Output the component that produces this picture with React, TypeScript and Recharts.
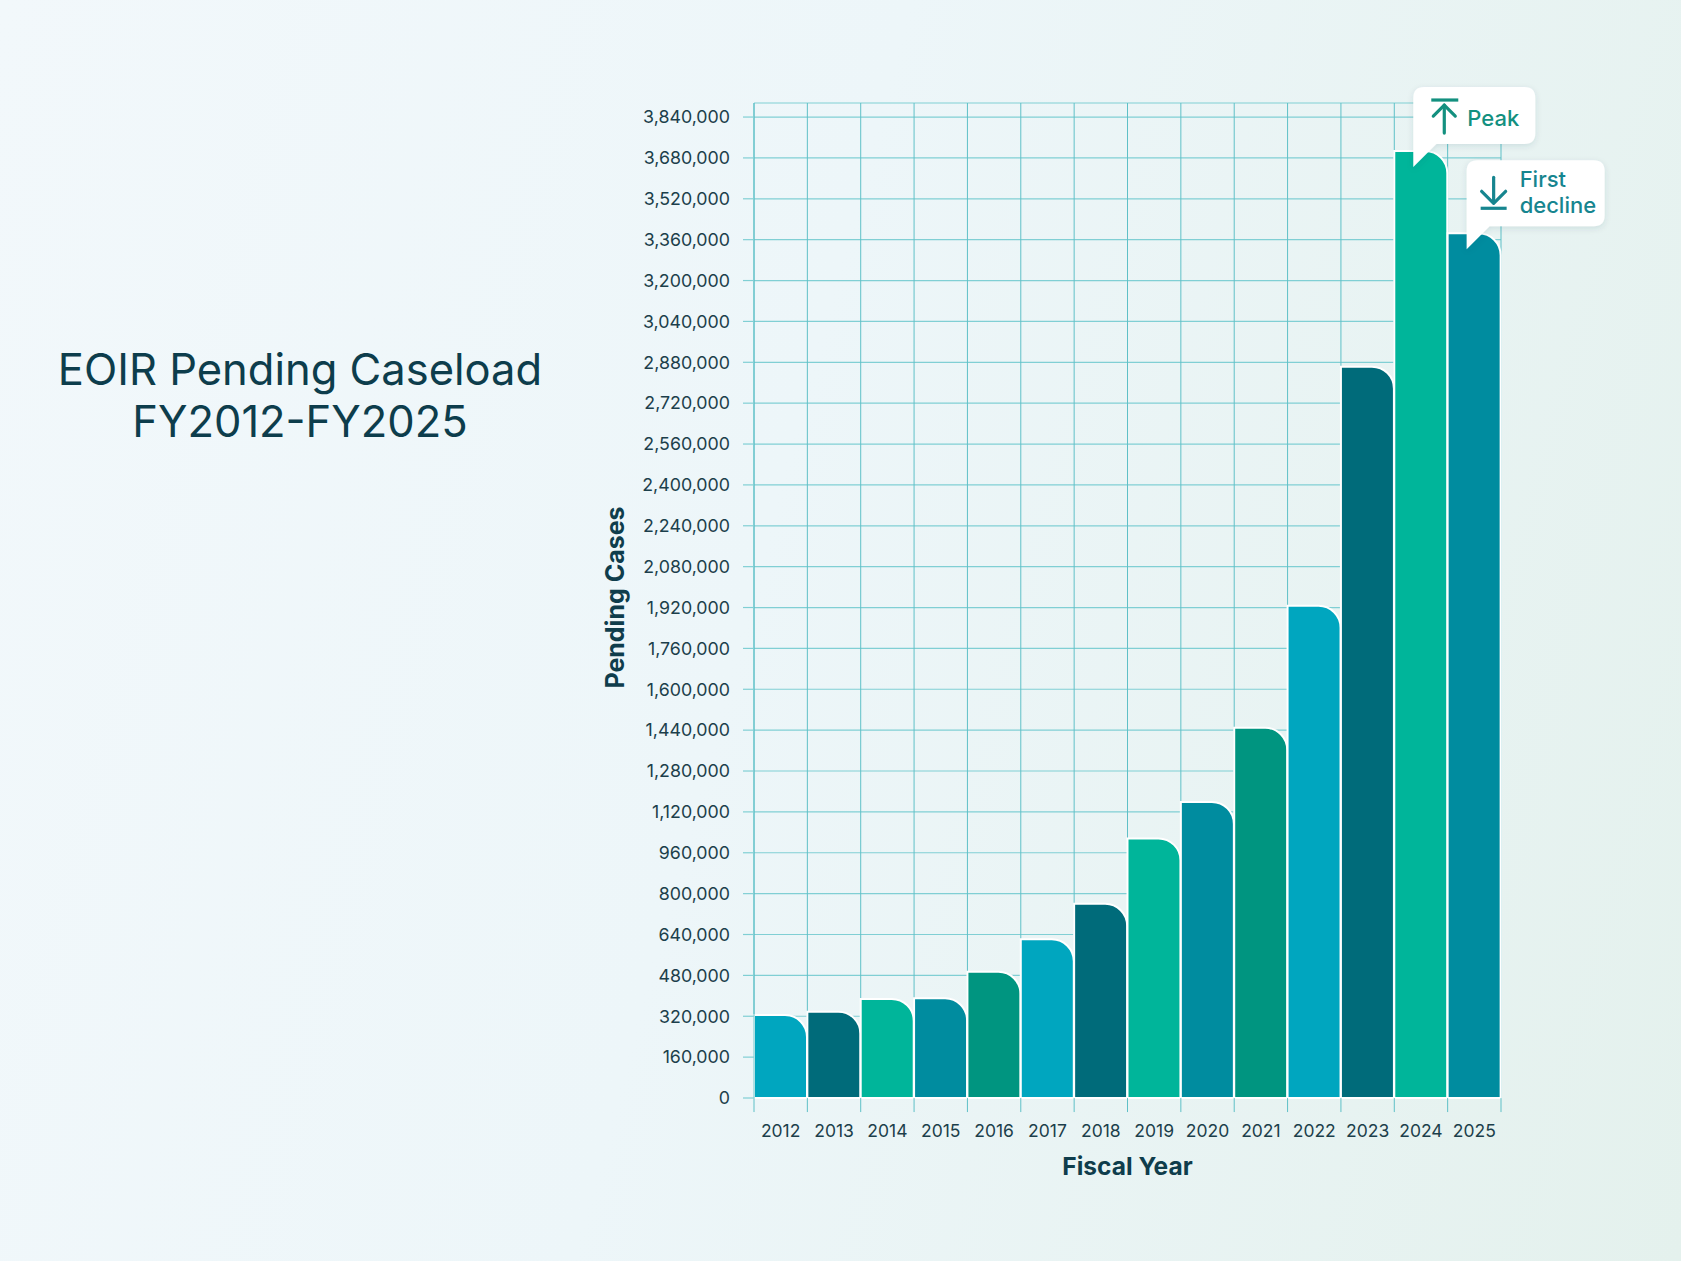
import React from 'react';
import { BarChart, Bar, XAxis, YAxis, CartesianGrid, Cell, LabelList, ReferenceLine } from 'recharts';

const years = ['2012', '2013', '2014', '2015', '2016', '2017', '2018', '2019', '2020', '2021', '2022', '2023', '2024', '2025'];
const pendingCases = [325000, 338000, 388000, 390000, 494000, 621000, 760000, 1016000, 1159000, 1449000, 1927000, 2863000, 3707000, 3385000];
const yTicks = [
  0, 160000, 320000, 480000, 640000, 800000, 960000, 1120000, 1280000, 1440000, 1600000, 1760000, 1920000,
  2080000, 2240000, 2400000, 2560000, 2720000, 2880000, 3040000, 3200000, 3360000, 3520000, 3680000, 3840000,
];
const barColors = ['#00A6BF', '#006B7A', '#00B59A', '#008C9F', '#009580'];
const callouts = [
  { year: '2024', icon: 'up', lines: ['Peak'] },
  { year: '2025', icon: 'down', lines: ['First', 'decline'] },
];

const data = years.map((year, i) => ({ year, pending: pendingCases[i], slot: i + 0.5 }));
const boundaries = [...years.map((_, i) => i), years.length];

const FONT = 'Inter, "Noto Sans", sans-serif';
const TEXT = '#1c3f4b';
const GRID_H = '#80cfd4';
const GRID_V = '#5fc0c7';

const renderCallout = (props: any) => {
  const c = callouts.find((k) => k.year === String(props.value));
  if (!c) return null;
  const bx = Number(props.x);
  const by = Number(props.y);
  const up = c.icon === 'up';
  const w = up ? 122 : 138;
  const h = up ? 57 : 66;
  const left = bx + 19;
  const bottom = by - 7;
  const top = bottom - h;
  const r = 11;
  const color = up ? '#13907f' : '#16858f';
  const id = `shadow-${c.year}`;
  const path = [
    `M ${left + r} ${top}`,
    `H ${left + w - r}`,
    `Q ${left + w} ${top} ${left + w} ${top + r}`,
    `V ${bottom - r}`,
    `Q ${left + w} ${bottom} ${left + w - r} ${bottom}`,
    `H ${left + 23}`,
    `L ${left} ${by + 16}`,
    `V ${top + r}`,
    `Q ${left} ${top} ${left + r} ${top}`,
    'Z',
  ].join(' ');
  const cx = left + (up ? 31 : 27);
  return (
    <g>
      <defs>
        <filter id={id} x="-20%" y="-30%" width="140%" height="160%">
          <feDropShadow dx="0" dy="2" stdDeviation="3" floodColor="#0b4a55" floodOpacity="0.12" />
        </filter>
      </defs>
      <path d={path} fill="#ffffff" filter={`url(#${id})`} />
      <g stroke={color} strokeWidth={3.2} strokeLinecap="round" strokeLinejoin="round" fill="none">
        {up ? (
          <>
            <line x1={left + 18} y1={top + 13} x2={left + 45} y2={top + 13} strokeLinecap="butt" />
            <line x1={cx} y1={top + 18} x2={cx} y2={top + 46} />
            <polyline points={`${cx - 11},${top + 29} ${cx},${top + 18} ${cx + 11},${top + 29}`} />
          </>
        ) : (
          <>
            <line x1={cx} y1={top + 17} x2={cx} y2={top + 42} />
            <polyline points={`${cx - 12},${top + 31} ${cx},${top + 43} ${cx + 12},${top + 31}`} />
            <line x1={left + 14} y1={top + 48} x2={left + 40} y2={top + 48} strokeLinecap="butt" />
          </>
        )}
      </g>
      {c.lines.map((line, i) => (
        <text
          key={line}
          x={left + (up ? 54 : 53)}
          y={top + (up ? 39 : 27 + i * 26)}
          fill={color}
          fontSize={22}
          fontWeight={500}
          fontFamily={FONT}
        >
          {line}
        </text>
      ))}
    </g>
  );
};

const App: React.FC = () => {
  return (
    <div
      style={{
        position: 'relative',
        width: 1681,
        height: 1261,
        overflow: 'hidden',
        fontFamily: FONT,
        background: 'linear-gradient(105deg, #f2f8fb 0%, #edf6f9 45%, #e4f1ed 100%)',
      }}
    >
      <style>{'body { margin: 0; }'}</style>
      <div
        style={{
          position: 'absolute',
          left: 0,
          top: 343,
          width: 600,
          textAlign: 'center',
          fontSize: 43.5,
          lineHeight: '52px',
          color: '#0d3d4c',
        }}
      >
        EOIR Pending Caseload
        <br />
        FY2012-FY2025
      </div>
      <div style={{ position: 'absolute', left: 0, top: 0 }}>
        <BarChart
          width={1681}
          height={1261}
          data={data}
          barCategoryGap={0}
          margin={{ top: 103, right: 160, bottom: 86, left: 590 }}
        >
          <CartesianGrid xAxisId="grid" yAxisId="left" vertical={false} stroke={GRID_H} strokeWidth={1.2} />
          <CartesianGrid xAxisId="grid" yAxisId="left" horizontal={false} stroke={GRID_V} strokeWidth={1} />
          <XAxis
            xAxisId="grid"
            dataKey="slot"
            type="number"
            domain={[0, years.length]}
            ticks={boundaries}
            allowDataOverflow
            hide
          />
          <XAxis
            xAxisId="cat"
            dataKey="year"
            height={77}
            tickLine={false}
            axisLine={false}
            tickSize={0}
            tickMargin={27}
            tick={{ fill: TEXT, fontSize: 17.5, fontFamily: FONT }}
            label={{
              value: 'Fiscal Year',
              position: 'insideBottom',
              offset: 0,
              style: { fill: '#0f3d4c', fontSize: 24.5, fontWeight: 700, fontFamily: FONT },
            }}
          />
          <YAxis
            yAxisId="left"
            width={164}
            domain={[0, 3895000]}
            ticks={yTicks}
            interval={0}
            tickSize={11}
            tickMargin={13}
            axisLine={{ stroke: GRID_V }}
            tickLine={{ stroke: GRID_H, strokeWidth: 1.2 }}
            tick={{ fill: TEXT, fontSize: 17.8, fontFamily: FONT }}
            tickFormatter={(v: number) => v.toLocaleString('en-US')}
            label={{
              value: 'Pending Cases',
              angle: -90,
              position: 'insideLeft',
              offset: 25,
              dy: -3,
              style: { textAnchor: 'middle', fill: '#0f3d4c', fontSize: 25, fontWeight: 700, fontFamily: FONT },
            }}
          />
          <YAxis
            yAxisId="right"
            orientation="right"
            width={20}
            domain={[0, 3895000]}
            ticks={yTicks}
            interval={0}
            tickSize={12}
            axisLine={false}
            tickLine={{ stroke: GRID_H, strokeWidth: 1.2 }}
            tickFormatter={() => ''}
          />
          {boundaries.map((b) => (
            <ReferenceLine
              key={b}
              xAxisId="grid"
              yAxisId="left"
              segment={[
                { x: b, y: 0 },
                { x: b, y: -55000 },
              ]}
              ifOverflow="visible"
              stroke={GRID_V}
              strokeWidth={1}
            />
          ))}
          <Bar
            dataKey="pending"
            xAxisId="cat"
            yAxisId="left"
            radius={[0, 22, 0, 0]}
            stroke="#ffffff"
            strokeWidth={2}
            isAnimationActive={false}
          >
            {data.map((d, i) => (
              <Cell key={d.year} fill={barColors[i % barColors.length]} />
            ))}
            <LabelList dataKey="year" content={renderCallout} />
          </Bar>
        </BarChart>
      </div>
    </div>
  );
};

export default App;
